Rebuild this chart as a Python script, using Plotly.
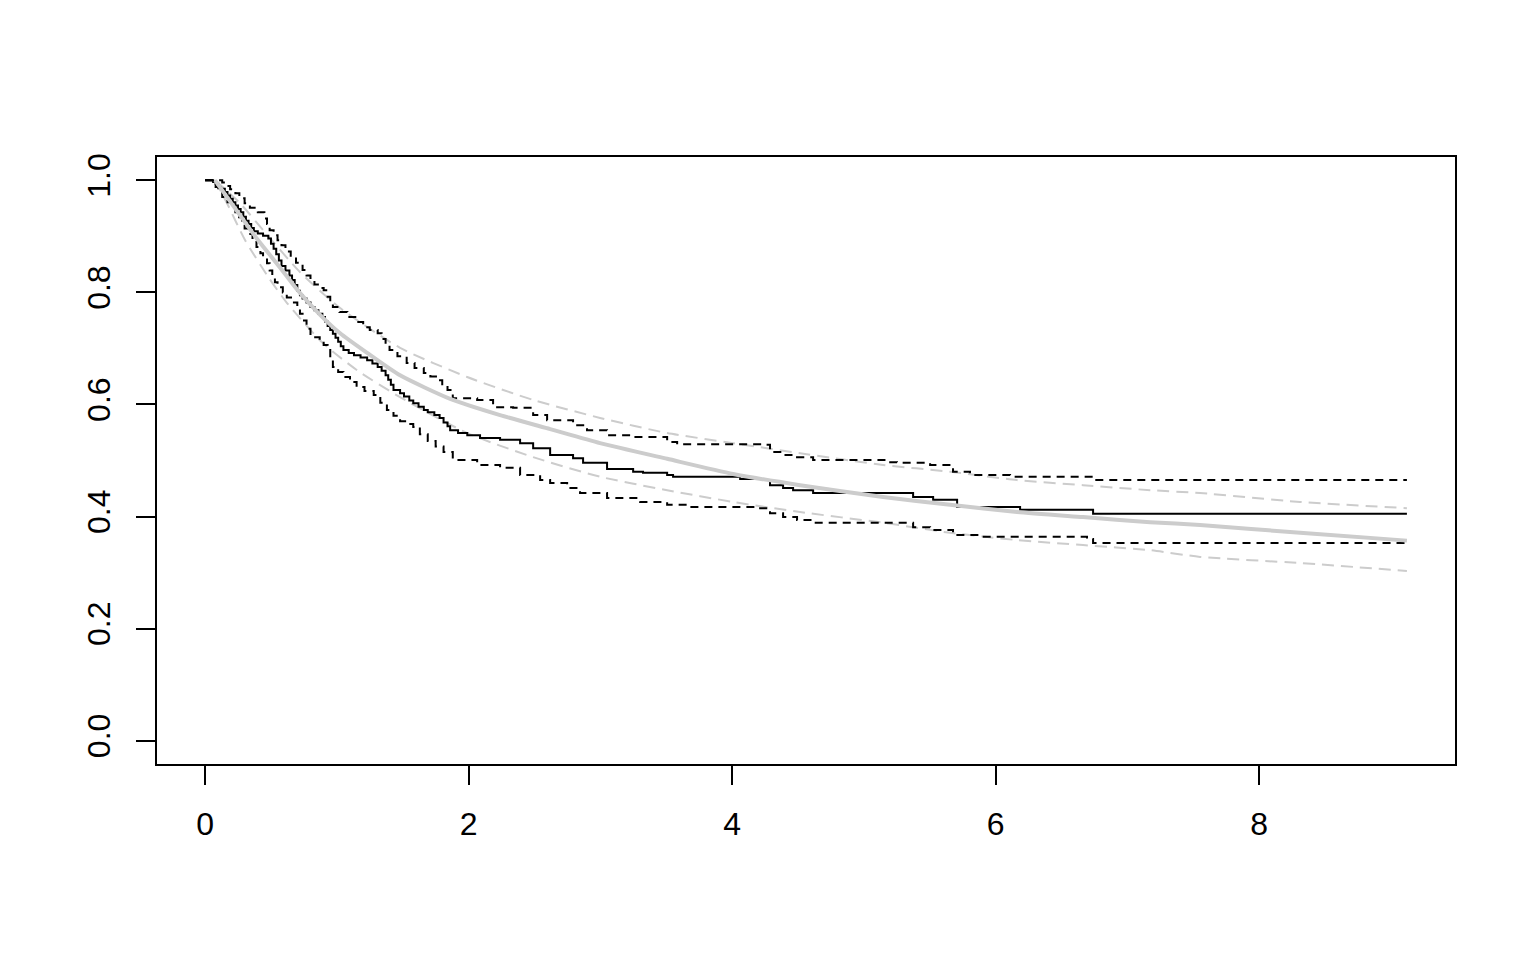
import plotly.graph_objects as go

# Kaplan-Meier estimate (step function, value after each time)
km_time = [0, 0.061, 0.08, 0.10, 0.12, 0.15, 0.17, 0.19, 0.21, 0.23, 0.25, 0.27, 0.29, 0.31,
           0.33, 0.35, 0.37, 0.40, 0.44, 0.48, 0.50, 0.52, 0.54, 0.56, 0.58, 0.61, 0.64,
           0.66, 0.68, 0.70, 0.72, 0.74, 0.77, 0.80, 0.83, 0.86, 0.89, 0.91, 0.93, 0.95,
           0.97, 0.99, 1.01, 1.03, 1.05, 1.09, 1.13, 1.18, 1.23, 1.27, 1.31, 1.34, 1.37,
           1.39, 1.41, 1.43, 1.48, 1.51, 1.55, 1.58, 1.62, 1.66, 1.69, 1.74, 1.78, 1.81,
           1.84, 1.86, 1.92, 1.99, 2.087, 2.239, 2.391, 2.490, 2.619, 2.793, 2.869,
           3.051, 3.249, 3.324, 3.507, 3.552, 4.061, 4.235, 4.288, 4.387, 4.463, 4.615,
           5.374, 5.526, 5.708, 6.186, 6.740, 9.122]
km_surv = [1.000, 0.997, 0.994, 0.988, 0.985, 0.979, 0.973, 0.967, 0.961, 0.955, 0.949, 0.943,
           0.935, 0.928, 0.922, 0.915, 0.909, 0.905, 0.901, 0.896, 0.887, 0.878, 0.868,
           0.857, 0.847, 0.839, 0.830, 0.822, 0.813, 0.803, 0.795, 0.789, 0.782, 0.774,
           0.768, 0.762, 0.756, 0.748, 0.740, 0.733, 0.726, 0.719, 0.712, 0.704, 0.697,
           0.692, 0.688, 0.684, 0.679, 0.673, 0.667, 0.660, 0.652, 0.644, 0.635, 0.626,
           0.620, 0.614, 0.607, 0.602, 0.596, 0.590, 0.586, 0.581, 0.576, 0.568, 0.561,
           0.554, 0.549, 0.545, 0.540, 0.537, 0.531, 0.522, 0.510, 0.504, 0.496,
           0.485, 0.480, 0.478, 0.474, 0.471, 0.467, 0.465, 0.456, 0.451, 0.447, 0.442,
           0.435, 0.430, 0.417, 0.412, 0.405, 0.405]

# Upper confidence limit of KM
km_up_time = [0, 0.13, 0.16, 0.19, 0.23, 0.26, 0.30, 0.34, 0.40, 0.45, 0.47, 0.49, 0.52, 0.55,
              0.58, 0.61, 0.65, 0.69, 0.74, 0.77, 0.80, 0.83, 0.87, 0.90, 0.93, 0.95, 0.97,
              1.02, 1.08, 1.14, 1.20, 1.25, 1.31, 1.34, 1.37, 1.40, 1.46, 1.53, 1.59, 1.66,
              1.71, 1.76, 1.80, 1.84, 1.88, 2.065, 2.186, 2.338, 2.490, 2.596, 2.793, 2.899,
              3.051, 3.249, 3.507, 3.583, 4.235, 4.288, 4.387, 4.493, 4.615, 5.177, 5.252,
              5.503, 5.677, 5.806, 6.110, 6.740, 9.122]
km_up = [1.000, 0.996, 0.990, 0.984, 0.977, 0.968, 0.959, 0.951, 0.943, 0.932, 0.922, 0.911,
         0.902, 0.893, 0.884, 0.873, 0.863, 0.853, 0.840, 0.830, 0.821, 0.814, 0.808, 0.804,
         0.792, 0.783, 0.774, 0.765, 0.756, 0.747, 0.738, 0.733, 0.727, 0.717, 0.707, 0.697,
         0.686, 0.674, 0.665, 0.656, 0.650, 0.643, 0.634, 0.626, 0.611, 0.608, 0.595, 0.594,
         0.581, 0.572, 0.563, 0.554, 0.545, 0.542, 0.533, 0.529, 0.528, 0.515, 0.510, 0.506,
         0.501, 0.497, 0.496, 0.492, 0.480, 0.474, 0.471, 0.465, 0.465]

# Lower confidence limit of KM
km_lo_time = [0, 0.08, 0.10, 0.13, 0.17, 0.21, 0.23, 0.25, 0.28, 0.30, 0.33, 0.36, 0.39, 0.42,
              0.44, 0.47, 0.49, 0.51, 0.53, 0.55, 0.59, 0.62, 0.66, 0.70, 0.72, 0.74, 0.77,
              0.80, 0.87, 0.90, 0.93, 0.95, 0.97, 1.01, 1.05, 1.10, 1.15, 1.21, 1.28, 1.33,
              1.38, 1.43, 1.48, 1.53, 1.58, 1.63, 1.69, 1.75, 1.81, 1.88, 2.065, 2.239, 2.391,
              2.543, 2.619, 2.748, 2.846, 3.051, 3.302, 3.507, 3.681, 4.213, 4.288, 4.387,
              4.493, 4.615, 5.374, 5.503, 5.677, 5.883, 6.694, 6.740, 9.122]
km_lo = [1.000, 0.988, 0.979, 0.970, 0.961, 0.952, 0.943, 0.934, 0.924, 0.914, 0.904, 0.893,
         0.881, 0.870, 0.861, 0.852, 0.839, 0.827, 0.818, 0.809, 0.800, 0.791, 0.782, 0.774,
         0.762, 0.750, 0.735, 0.720, 0.715, 0.706, 0.697, 0.682, 0.667, 0.658, 0.649, 0.640,
         0.631, 0.624, 0.617, 0.603, 0.590, 0.580, 0.570, 0.565, 0.560, 0.547, 0.535, 0.525,
         0.515, 0.501, 0.492, 0.487, 0.474, 0.465, 0.460, 0.451, 0.442, 0.433, 0.426, 0.421,
         0.417, 0.415, 0.406, 0.399, 0.394, 0.389, 0.381, 0.376, 0.367, 0.364, 0.360, 0.353,
         0.353]

# Parametric fit and its confidence band
fit_time = [0.076, 0.228, 0.380, 0.509, 0.607, 0.706, 0.873, 1.025, 1.230, 1.480, 1.860, 2.239,
            2.619, 2.998, 3.507, 4.008, 4.516, 5.146, 5.655, 6.163, 6.664, 7.173, 7.552,
            8.311, 9.122]
fit_surv = [1.000, 0.950, 0.900, 0.862, 0.833, 0.803, 0.760, 0.727, 0.692, 0.652, 0.610, 0.581,
            0.556, 0.531, 0.503, 0.476, 0.456, 0.435, 0.421, 0.408, 0.399, 0.390, 0.385,
            0.371, 0.357]

fit_up_time = [0.076, 0.266, 0.455, 0.721, 1.025, 1.480, 1.989, 2.490, 2.998, 3.507, 4.008,
               4.516, 5.146, 5.655, 6.163, 6.664, 7.173, 7.552, 8.311, 9.122]
fit_up = [1.000, 0.959, 0.907, 0.836, 0.772, 0.701, 0.649, 0.608, 0.576, 0.549, 0.531,
          0.513, 0.492, 0.480, 0.465, 0.456, 0.447, 0.442, 0.426, 0.415]

fit_lo_time = [0.076, 0.175, 0.304, 0.478, 0.622, 0.896, 1.154, 1.480, 1.989, 2.490, 2.998,
               3.507, 4.008, 4.516, 5.146, 5.655, 6.163, 6.664, 7.173, 7.552, 8.311, 9.122]
fit_lo = [1.000, 0.955, 0.893, 0.828, 0.781, 0.709, 0.661, 0.613, 0.549, 0.506, 0.471,
          0.447, 0.426, 0.408, 0.389, 0.371, 0.358, 0.349, 0.340, 0.328, 0.317, 0.303]

x_ticks = [0, 2, 4, 6, 8]
y_ticks = [0.0, 0.2, 0.4, 0.6, 0.8, 1.0]

GREY = "#cccccc"
fig = go.Figure()
fig.add_trace(go.Scatter(x=fit_up_time, y=fit_up, mode="lines",
                         line=dict(color=GREY, width=2, dash="12px,7px", shape="spline", smoothing=0.6)))
fig.add_trace(go.Scatter(x=fit_lo_time, y=fit_lo, mode="lines",
                         line=dict(color=GREY, width=2, dash="12px,7px", shape="spline", smoothing=0.6)))
fig.add_trace(go.Scatter(x=km_up_time, y=km_up, mode="lines",
                         line=dict(color="black", width=2, dash="8px,6px", shape="hv")))
fig.add_trace(go.Scatter(x=km_lo_time, y=km_lo, mode="lines",
                         line=dict(color="black", width=2, dash="8px,6px", shape="hv")))
fig.add_trace(go.Scatter(x=km_time, y=km_surv, mode="lines",
                         line=dict(color="black", width=2, shape="hv")))
fig.add_trace(go.Scatter(x=fit_time, y=fit_surv, mode="lines",
                         line=dict(color=GREY, width=4, shape="spline", smoothing=0.6)))

axis_common = dict(showgrid=False, zeroline=False, showline=True, linecolor="black",
                   linewidth=2, mirror=True, ticks="outside", ticklen=19, tickwidth=2,
                   tickcolor="black", tickfont=dict(family="Liberation Sans", size=32, color="black"))

# page body has an 8px margin; size and margins compensate so the plot box lands at 157..1455 x 157..764
fig.update_layout(
    width=1520, height=944,
    margin=dict(l=149, r=73, t=149, b=188),
    paper_bgcolor="white", plot_bgcolor="white",
    showlegend=False,
    xaxis=dict(range=[-0.365, 9.487], tickvals=x_ticks, ticktext=[str(v) for v in x_ticks],
               ticklabelstandoff=12, **axis_common),
    yaxis=dict(range=[-0.0416, 1.0416], tickvals=y_ticks, ticktext=[f"{v:.1f}" for v in y_ticks],
               tickangle=-90, ticklabelstandoff=13, **axis_common),
)

fig.write_html("out.html")
